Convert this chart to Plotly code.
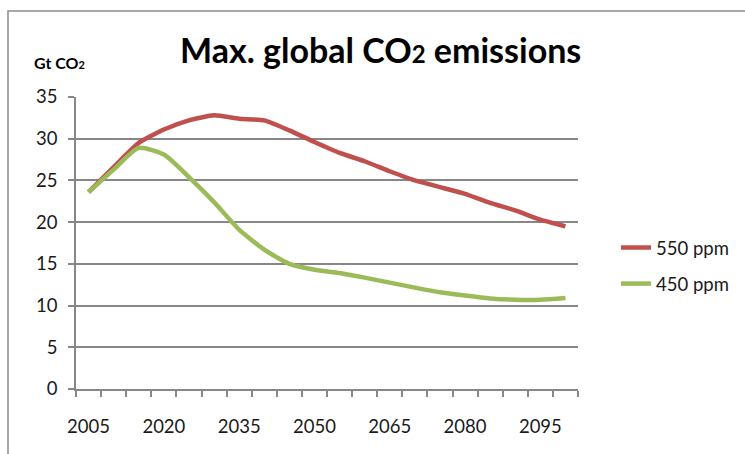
import plotly.graph_objects as go

years = [2005, 2010, 2015, 2020, 2025, 2030, 2035, 2040, 2045, 2050,
         2055, 2060, 2065, 2070, 2075, 2080, 2085, 2090, 2095, 2100]
ppm550 = [23.6, 26.6, 29.5, 31.1, 32.2, 32.8, 32.4, 32.2, 31.0, 29.6,
          28.3, 27.3, 26.1, 25.0, 24.2, 23.4, 22.3, 21.4, 20.3, 19.5]
ppm450 = [23.6, 26.3, 28.9, 28.1, 25.4, 22.4, 19.1, 16.7, 15.0, 14.3,
          13.9, 13.35, 12.75, 12.15, 11.6, 11.2, 10.85, 10.7, 10.7, 10.9]
series_names = ["550 ppm", "450 ppm"]
xtick_years = years[::3]
ytick_vals = [0, 5, 10, 15, 20, 25, 30, 35]

FONT = "Lato"
GRID = "#878787"

fig = go.Figure()
fig.add_trace(go.Scatter(x=years, y=ppm550, name=series_names[0], mode="lines",
                         line=dict(color="#C0504D", width=4.5, shape="spline", smoothing=0.5),
                         legendgroup="a", legendrank=1))
fig.add_trace(go.Scatter(x=years, y=ppm450, name=series_names[1], mode="lines",
                         line=dict(color="#9BBB59", width=4.5, shape="spline", smoothing=0.6),
                         legendgroup="b", legendrank=2))

L, R, T, B = 76, 167, 97, 65
W, H = 745, 454
pw, ph = W - L - R, H - T - B

def px(x):
    return (x - L) / pw

def py(y):
    return (H - B - y) / ph

fig.update_layout(
    width=W, height=H,
    margin=dict(l=L, r=R, t=T, b=B, autoexpand=False),
    paper_bgcolor="white", plot_bgcolor="white",
    font=dict(family=FONT, size=18.5, color="#1a1a1a"),
    showlegend=True,
    legend=dict(x=px(616), y=py(229), xanchor="left", yanchor="top",
                font=dict(family=FONT, size=18.5, color="#1a1a1a"),
                tracegroupgap=9, bgcolor="rgba(0,0,0,0)"),
    xaxis=dict(range=[2002.5, 2102.5], tickmode="array", tickvals=xtick_years,
               ticktext=[str(v) for v in xtick_years], ticks="", showgrid=False,
               showline=True, linecolor=GRID, linewidth=1.5, zeroline=False,
               ticklabelstandoff=20,
               minor=dict(tick0=2002.5, dtick=5, ticks="outside", ticklen=6,
                          tickcolor=GRID, tickwidth=1.5, showgrid=False)),
    yaxis=dict(range=[0, 35], tickmode="array", tickvals=ytick_vals,
               ticks="outside", ticklen=6, tickcolor=GRID, tickwidth=1.5,
               showgrid=True, gridcolor=GRID, gridwidth=1.5,
               showline=True, linecolor=GRID, linewidth=1.5, zeroline=False,
               ticklabelstandoff=7),
    shapes=[dict(type="path", xref="paper", yref="paper",
                 path=f"M {px(8)},{py(470)} L {px(8)},{py(11)} L {px(760)},{py(11)}",
                 line=dict(color="#8c8c8c", width=1.5))],
    annotations=[
        dict(text="<b>Max. global CO<span style='font-size:24px'>2</span> emissions</b>",
             xref="paper", yref="paper", x=px(380), y=py(50), xanchor="center",
             yanchor="middle", showarrow=False,
             font=dict(family=FONT, size=34, color="#000000")),
        dict(text="<b>Gt CO<span style='font-size:11px'>2</span></b>",
             xref="paper", yref="paper", x=px(59), y=py(63), xanchor="center",
             yanchor="middle", showarrow=False,
             font=dict(family=FONT, size=16, color="#000000")),
    ],
)

fig.write_html("out.html", config={"displayModeBar": False},
               post_script="document.body.style.margin='0';")
